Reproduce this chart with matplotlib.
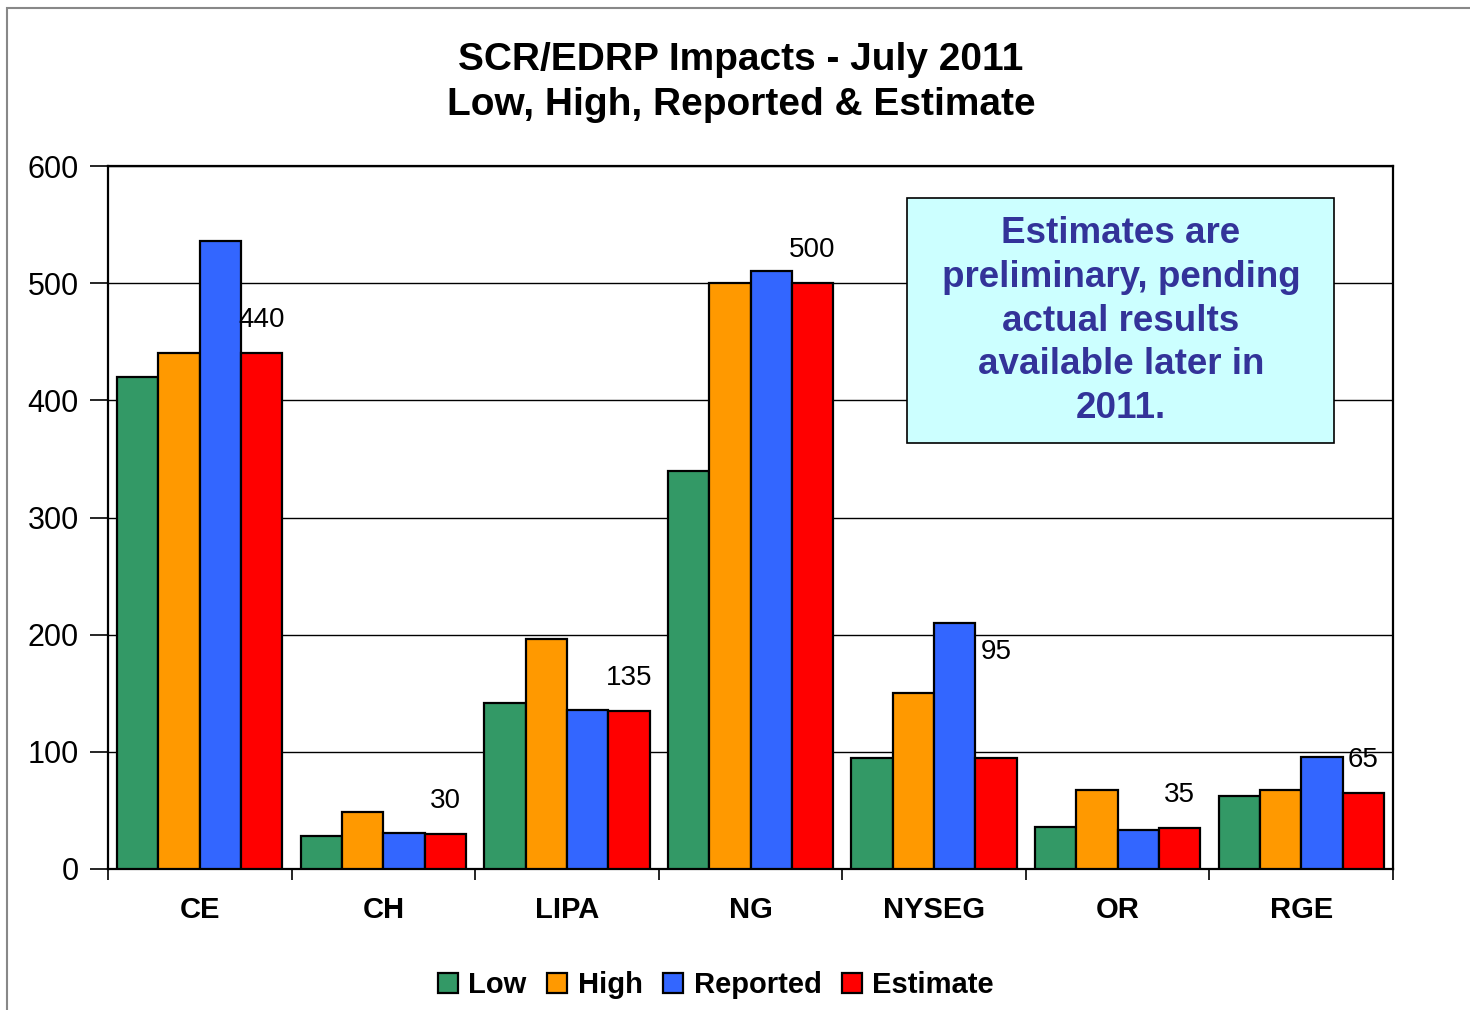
import matplotlib
matplotlib.use("Agg")
import matplotlib.pyplot as plt
import numpy as np
from matplotlib.patches import Rectangle

categories = ["CE", "CH", "LIPA", "NG", "NYSEG", "OR", "RGE"]
low = [420, 28, 142, 340, 95, 36, 62]
high = [440, 49, 196, 500, 150, 67, 67]
reported = [536, 31, 136, 510, 210, 33, 96]
estimate = [440, 30, 135, 500, 95, 35, 65]
series_names = ["Low", "High", "Reported", "Estimate"]
colors = ["#339966", "#FF9900", "#3366FF", "#FF0000"]
yticks = [0, 100, 200, 300, 400, 500, 600]
label_offsets_px = [33, 33, 33, 33, 106, 33, 33]

plt.rcParams['font.family'] = ['Liberation Sans', 'DejaVu Sans']

fig = plt.figure(figsize=(14.7, 10.1), dpi=100)
ax = fig.add_axes([108/1470, 1-869/1010, (1393-108)/1470, (869-166)/1010])
ax.set_zorder(1)
ax.patch.set_alpha(0)

# outer frame
fig.patches.append(Rectangle((7/1470, -0.01), 1.02, 1-8/1010+0.01, transform=fig.transFigure,
                             fill=False, edgecolor="#888888", linewidth=1.5))

x = np.arange(len(categories))
w = 0.225
data = [low, high, reported, estimate]
bars = []
for i, (vals, c, n) in enumerate(zip(data, colors, series_names)):
    b = ax.bar(x + (i - 1.5) * w, vals, w, color=c, edgecolor="black", linewidth=1.6,
               label=n, zorder=3)
    bars.append(b)

for rect, v, off in zip(bars[3], estimate, label_offsets_px):
    ax.annotate(f"{v}", (rect.get_x() + rect.get_width() / 2, rect.get_height()),
                xytext=(0, off), textcoords="offset pixels", ha="center", va="center",
                fontsize=20, color="black", zorder=5)

ax.set_xlim(-0.5, len(categories) - 0.5)
ax.set_ylim(0, 600)
ax.set_yticks(yticks)
ax.set_yticklabels([str(t) for t in yticks], fontsize=22)
ax.yaxis.grid(True, color="black", linewidth=1.0, zorder=0)
ax.set_axisbelow(True)
ax.tick_params(axis="y", length=13, width=1.2, pad=8, direction="out")

ax.set_xticks(np.arange(len(categories) + 1) - 0.5)
ax.set_xticklabels([])
ax.tick_params(axis="x", length=8, width=1.2, direction="out")
for xi, cat in zip(x, categories):
    ax.text(xi, -0.058, cat, transform=ax.get_xaxis_transform(), ha="center", va="center",
            fontsize=21, fontweight="bold")

for s in ax.spines.values():
    s.set_color("black")
    s.set_linewidth(1.6)

fig.text(0.504, 1-60/1010, "SCR/EDRP Impacts - July 2011", ha="center", va="center",
         fontsize=28, fontweight="bold")
fig.text(0.504, 1-105/1010, "Low, High, Reported & Estimate", ha="center", va="center",
         fontsize=28, fontweight="bold")

fig.patches.append(Rectangle((907/1470, 1-443/1010), (1334-907)/1470, (443-198)/1010,
                             transform=fig.transFigure, facecolor="#CCFFFF",
                             edgecolor="black", linewidth=1.2, zorder=2))
fig.text(1121/1470, 1-321/1010,
         "Estimates are\npreliminary, pending\nactual results\navailable later in\n2011.",
         ha="center", va="center", fontsize=26.5, fontweight="bold",
         color="#333399", linespacing=1.33, zorder=10)

fig.legend(handles=bars, labels=series_names, loc="center", bbox_to_anchor=(0.487, 1-985/1010),
           ncol=4, frameon=False, handlelength=0.7, handleheight=0.7,
           handletextpad=0.35, columnspacing=0.7, prop={"weight": "bold", "size": 21})

fig.savefig("out.png", dpi=100)
